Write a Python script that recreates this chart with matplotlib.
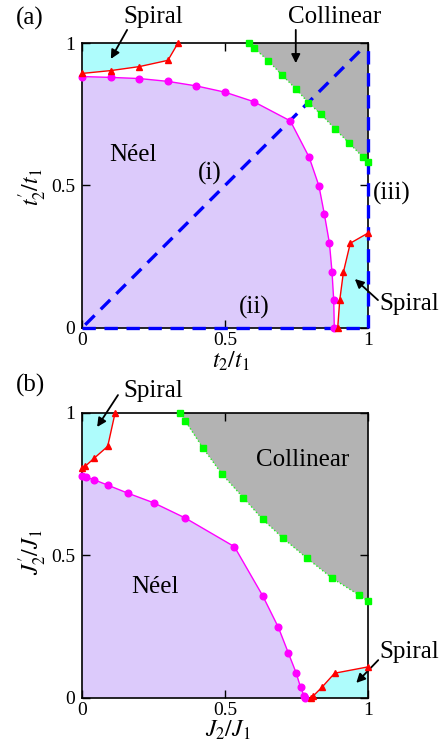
import matplotlib
matplotlib.use("Agg")
import matplotlib.pyplot as plt

plt.rcParams["font.family"] = ["Liberation Serif", "DejaVu Serif"]
plt.rcParams["mathtext.fontset"] = "stix"

# ---- panel (a): hopping parameters t2/t1, t2'/t1 ----
a_neel_x = [0.0, 0.1, 0.2, 0.3, 0.4, 0.5, 0.6, 0.729, 0.795, 0.829, 0.848, 0.866, 0.875, 0.881, 0.883]
a_neel_y = [0.883, 0.880, 0.876, 0.866, 0.850, 0.828, 0.795, 0.727, 0.599, 0.499, 0.400, 0.297, 0.196, 0.096, 0.0]

a_spiral_top_x = [0.0, 0.1, 0.2, 0.3, 0.335]
a_spiral_top_y = [0.894, 0.904, 0.918, 0.940, 1.0]

a_spiral_bot_x = [0.895, 0.902, 0.915, 0.939, 1.0]
a_spiral_bot_y = [0.0, 0.096, 0.196, 0.297, 0.332]

a_coll_x = [0.584, 0.6, 0.652, 0.701, 0.75, 0.792, 0.837, 0.886, 0.936, 0.984, 1.0]
a_coll_y = [1.0, 0.985, 0.938, 0.887, 0.838, 0.791, 0.750, 0.698, 0.648, 0.599, 0.582]

# ---- panel (b): exchange couplings J2/J1, J2'/J1 ----
b_neel_x = [0.0, 0.012, 0.041, 0.089, 0.159, 0.25, 0.36, 0.533, 0.632, 0.687, 0.722, 0.749, 0.765, 0.777, 0.781]
b_neel_y = [0.779, 0.774, 0.765, 0.746, 0.718, 0.684, 0.631, 0.530, 0.358, 0.247, 0.157, 0.088, 0.036, 0.007, 0.0]

b_spiral_top_x = [0.0, 0.01, 0.041, 0.089, 0.115]
b_spiral_top_y = [0.805, 0.812, 0.840, 0.882, 1.0]

b_spiral_bot_x = [0.8, 0.81, 0.839, 0.884, 1.0]
b_spiral_bot_y = [0.0, 0.007, 0.036, 0.086, 0.108]

b_coll_x = [0.343, 0.361, 0.423, 0.49, 0.564, 0.632, 0.704, 0.788, 0.876, 0.970, 1.0]
b_coll_y = [1.0, 0.971, 0.876, 0.784, 0.702, 0.626, 0.559, 0.489, 0.419, 0.360, 0.338]

tick_vals = [0, 0.5, 1]
tick_text = ["0", "0.5", "1"]

NEEL_FILL = "#dccafb"
SPIRAL_FILL = "#aefcfc"
COLL_FILL = "#b3b3b3"
TXT = 18


def phase_panel(ax, neel, sp_top, sp_bot, coll):
    nx, ny = neel
    ax.fill(list(nx) + [0.0], list(ny) + [0.0], color=NEEL_FILL, lw=0, zorder=0)
    tx, ty = sp_top
    ax.fill([0.0] + list(tx) + [0.0], [ty[0]] + list(ty) + [1.0], color=SPIRAL_FILL, lw=0, zorder=0)
    bx, by = sp_bot
    ax.fill(list(bx) + [1.0], list(by) + [0.0], color=SPIRAL_FILL, lw=0, zorder=0)
    cx, cy = coll
    ax.fill(list(cx) + [1.0], list(cy) + [1.0], color=COLL_FILL, lw=0, zorder=0)

    ax.plot(nx, ny, color="#ff00ff", lw=1.0, marker="o", ms=4.8, mec="#ff00ff",
            clip_on=False, zorder=5)
    for xs, ys in (sp_top, sp_bot):
        ax.plot(xs, ys, color="#ff0000", lw=1.0, marker="^", ms=4.2, mec="#ff0000",
                clip_on=False, zorder=5)
    ax.plot(cx, cy, color="#22ee22", lw=1.0, ls=":", zorder=4, clip_on=False)
    ax.plot(cx, cy, ls="none", marker="s", ms=5, color="#00ff00", mec="#00ff00",
            clip_on=False, zorder=5)

    ax.set_xlim(0, 1)
    ax.set_ylim(0, 1)
    ax.set_xticks(tick_vals)
    ax.set_xticklabels(tick_text)
    ax.set_yticks(tick_vals)
    ax.set_yticklabels(tick_text)
    ax.tick_params(direction="in", top=True, right=True, length=6, width=1.0,
                   labelsize=14)
    ax.tick_params(axis="y", pad=5)
    ax.tick_params(axis="x", pad=3)
    for s in ax.spines.values():
        s.set_linewidth(1.2)


def arrow(ax, tail, head):
    ax.annotate("", xy=head, xytext=tail, xycoords="data", textcoords="data",
                annotation_clip=False,
                arrowprops=dict(arrowstyle="-|>", color="k", lw=1.3,
                                mutation_scale=13, shrinkA=0, shrinkB=0))


fig = plt.figure(figsize=(4.43, 7.41), dpi=100)
ax_a = fig.add_axes([0.1858, 0.5578, 0.6442, 0.3838])
ax_b = fig.add_axes([0.1858, 0.0584, 0.6442, 0.3846])

# (a)
phase_panel(ax_a, (a_neel_x, a_neel_y), (a_spiral_top_x, a_spiral_top_y),
            (a_spiral_bot_x, a_spiral_bot_y), (a_coll_x, a_coll_y))
dash_kw = dict(color="#0000ff", lw=2.4, dashes=(4, 2.6), zorder=3, clip_on=False)
ax_a.plot([0.01, 0.99], [0.01, 0.99], **dash_kw)
ax_a.plot([0.0, 1.0], [0.0, 0.0], **dash_kw)
ax_a.plot([1.0, 1.0], [0.0, 1.0], **dash_kw)

ax_a.set_xlabel(r"$t_2/t_1$", fontsize=17)
ax_a.set_ylabel(r"$t_2'/t_1$", fontsize=17)
ax_a.xaxis.set_label_coords(0.52, -0.077)
ax_a.yaxis.set_label_coords(-0.115, 0.495)

ax_a.text(0.178, 0.607, "Néel", fontsize=TXT, ha="center", va="center")
ax_a.text(0.445, 0.544, "(i)", fontsize=TXT, ha="center", va="center")
ax_a.text(0.604, 0.072, "(ii)", fontsize=TXT, ha="center", va="center")
ax_a.text(1.085, 0.473, "(iii)", fontsize=TXT, ha="center", va="center")
ax_a.text(0.248, 1.094, "Spiral", fontsize=TXT, ha="center", va="center")
ax_a.text(0.885, 1.094, "Collinear", fontsize=TXT, ha="center", va="center")
ax_a.text(1.147, 0.082, "Spiral", fontsize=TXT, ha="center", va="center")
arrow(ax_a, (0.157, 1.047), (0.10, 0.945))
arrow(ax_a, (0.748, 1.047), (0.748, 0.93))
arrow(ax_a, (1.036, 0.097), (0.955, 0.171))

# (b)
phase_panel(ax_b, (b_neel_x, b_neel_y), (b_spiral_top_x, b_spiral_top_y),
            (b_spiral_bot_x, b_spiral_bot_y), (b_coll_x, b_coll_y))
ax_b.set_xlabel(r"$J_2/J_1$", fontsize=17)
ax_b.set_ylabel(r"$J_2'/J_1$", fontsize=17)
ax_b.xaxis.set_label_coords(0.51, -0.075)
ax_b.yaxis.set_label_coords(-0.115, 0.51)

ax_b.text(0.255, 0.388, "Néel", fontsize=TXT, ha="center", va="center")
ax_b.text(0.773, 0.834, "Collinear", fontsize=TXT, ha="center", va="center")
ax_b.text(0.248, 1.076, "Spiral", fontsize=TXT, ha="center", va="center")
ax_b.text(1.147, 0.160, "Spiral", fontsize=TXT, ha="center", va="center")
arrow(ax_b, (0.125, 1.062), (0.052, 0.95))
arrow(ax_b, (1.037, 0.132), (0.96, 0.052))

fig.text(30 / 443, 1 - 18 / 741, "(a)", fontsize=TXT, ha="center", va="center")
fig.text(30 / 443, 1 - 385 / 741, "(b)", fontsize=TXT, ha="center", va="center")

fig.savefig("out.png", dpi=100)
